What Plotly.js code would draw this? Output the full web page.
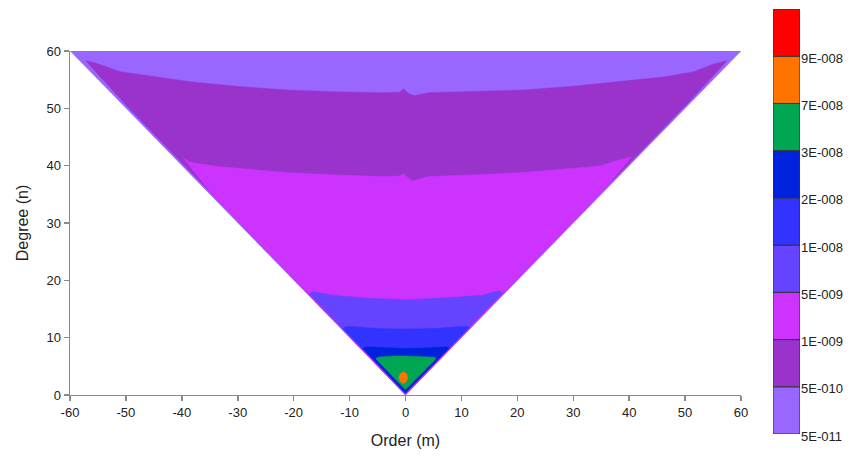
<!DOCTYPE html>
<html>
<head>
<meta charset="utf-8">
<script src="https://cdn.plot.ly/plotly-3.0.1.min.js"></script>
<style>
html, body { margin: 0; padding: 0; background: #ffffff; }
#chart { width: 861px; height: 459px; }
</style>
</head>
<body>
<div id="chart"></div>
<script>
// ---- legend bands (bottom to top) ----
const bandLabels = ['5E-011', '5E-010', '1E-009', '5E-009', '1E-008', '2E-008', '3E-008', '7E-008', '9E-008'];
const bandColors = ['#9966FF', '#9933CC', '#CC33FF', '#6644FF', '#3333FF', '#0022DD', '#00A651', '#FF7300', '#FF0000'];

// ---- axis ticks ----
const xTicks = [-60, -50, -40, -30, -20, -10, 0, 10, 20, 30, 40, 50, 60];
const yTicks = [0, 10, 20, 30, 40, 50, 60];

// ---- region outlines (order m, degree n) ----
// whole domain |m| <= n <= 60 (band 0)
const domainM = [-60, 60, 0];
const domainN = [60, 60, 0];
// band 1 (dark purple) and everything below it
const band1M = [0, -50.0, -57.2, -55.5, -51.0, -46.7, -38.3, -29.8, -21.3, -12.9, -4.3, -1.0, -0.3, 0.5, 1.6, 4.1, 12.6, 21.1, 29.6, 38.1, 46.5, 51.6, 55.0, 57.5, 50.2];
const band1N = [0, 50.6, 58.3, 57.9, 56.4, 55.8, 54.6, 53.8, 53.2, 52.9, 52.7, 52.8, 53.4, 52.6, 52.2, 52.7, 52.9, 53.2, 53.8, 54.6, 55.5, 56.4, 57.7, 58.3, 50.6];
// band 2 (magenta)
const band2M = [0, -34.6, -39.7, -38.5, -34.0, -29.8, -21.3, -12.9, -4.3, -1.0, -0.4, 1.2, 4.1, 12.6, 21.1, 29.6, 35.0, 38.1, 40.4, 35.0];
const band2N = [0, 35.0, 41.3, 40.6, 39.9, 39.5, 38.8, 38.4, 38.1, 38.2, 38.6, 37.3, 38.1, 38.4, 38.8, 39.5, 40.0, 41.0, 41.5, 35.2];
// band 3 (violet blue)
const band3M = [0, -17.2, -16.6, -13.0, -7.0, 0.0, 7.9, 13.8, 16.8, 17.4];
const band3N = [0.3, 17.6, 18.0, 17.4, 16.9, 16.6, 17.0, 17.4, 18.2, 17.8];
// band 4 (blue)
const band4M = [0, -11.2, -10.6, -5.0, 0.0, 5.0, 10.9, 11.5];
const band4N = [0.3, 11.6, 12.0, 11.6, 11.5, 11.6, 12.0, 11.8];
// band 5 (dark blue)
const band5M = [0, -7.6, -7.0, -3.0, 0.0, 3.0, 7.3, 7.9];
const band5N = [0.3, 8.1, 8.4, 8.2, 8.1, 8.2, 8.4, 8.2];
// band 6 (green)
const band6M = [0, -5.3, -5.0, -2.0, 0.0, 2.0, 5.2, 5.5];
const band6N = [0.9, 6.3, 6.6, 6.8, 6.8, 6.7, 6.6, 6.3];
// band 7 (orange)
const band7M = [-0.4, 0.2, 0.4, 0.1, -0.5, -1.0, -1.2, -0.9];
const band7N = [4.1, 3.7, 3.0, 2.2, 2.0, 2.4, 3.1, 3.8];

const regions = [
  {m: domainM, n: domainN, band: 0},
  {m: band1M, n: band1N, band: 1},
  {m: band2M, n: band2N, band: 2},
  {m: band3M, n: band3N, band: 3},
  {m: band4M, n: band4N, band: 4},
  {m: band5M, n: band5N, band: 5},
  {m: band6M, n: band6N, band: 6},
  {m: band7M, n: band7N, band: 7}
];

const FONT = 'Liberation Sans, Arial, Helvetica, sans-serif';
const AXC = '#8a8a8a';

const traces = regions.map(r => ({
  type: 'scatter',
  mode: 'lines',
  x: r.m,
  y: r.n,
  fill: 'toself',
  fillcolor: bandColors[r.band],
  line: {color: bandColors[r.band], width: 0.5},
  hoverinfo: 'skip',
  showlegend: false,
  xaxis: 'x',
  yaxis: 'y'
}));

// colour key as stacked cells
traces.push({
  type: 'bar',
  x: bandLabels.map(() => 0),
  y: bandLabels.map(() => 1),
  base: bandLabels.map((_, i) => i),
  width: 1,
  marker: {color: bandColors, line: {color: '#333333', width: 1}},
  hoverinfo: 'skip',
  showlegend: false,
  xaxis: 'x2',
  yaxis: 'y2'
});

const layout = {
  width: 861,
  height: 459,
  margin: {l: 70, r: 61, t: 9, b: 25},
  paper_bgcolor: '#ffffff',
  plot_bgcolor: 'rgba(0,0,0,0)',
  showlegend: false,
  barmode: 'overlay',
  font: {family: FONT, size: 13, color: '#222222'},
  xaxis: {
    domain: [0, 0.9192],
    anchor: 'y',
    range: [-60, 60],
    tickvals: xTicks,
    ticktext: xTicks.map(String),
    ticks: 'outside',
    ticklen: 5,
    tickwidth: 1.5,
    tickcolor: AXC,
    showline: true,
    linecolor: AXC,
    linewidth: 1.5,
    showgrid: false,
    zeroline: false,
    tickfont: {family: FONT, size: 13, color: '#222222'},
    title: {text: 'Order (m)', font: {family: FONT, size: 16, color: '#222222'}, standoff: 15}
  },
  yaxis: {
    domain: [0.0918, 0.9012],
    anchor: 'x',
    range: [0, 60],
    tickvals: yTicks,
    ticktext: yTicks.map(String),
    ticks: 'outside',
    ticklen: 5,
    tickwidth: 1.5,
    tickcolor: AXC,
    showline: true,
    linecolor: AXC,
    linewidth: 1.5,
    showgrid: false,
    zeroline: false,
    tickfont: {family: FONT, size: 13, color: '#222222'},
    title: {text: 'Degree (n)', font: {family: FONT, size: 16, color: '#222222'}, standoff: 14}
  },
  xaxis2: {
    domain: [0.963, 1],
    anchor: 'y2',
    range: [-0.5, 0.5],
    visible: false,
    fixedrange: true
  },
  yaxis2: {
    domain: [0, 1],
    anchor: 'x2',
    side: 'right',
    range: [0, 9],
    tickvals: bandLabels.map((_, i) => i),
    ticktext: bandLabels,
    ticks: '',
    ticklabelshift: 2,
    showline: false,
    showgrid: false,
    zeroline: false,
    fixedrange: true,
    tickfont: {family: FONT, size: 13, color: '#222222'}
  }
};

Plotly.newPlot('chart', traces, layout, {displayModeBar: false, staticPlot: true});
</script>
</body>
</html>
